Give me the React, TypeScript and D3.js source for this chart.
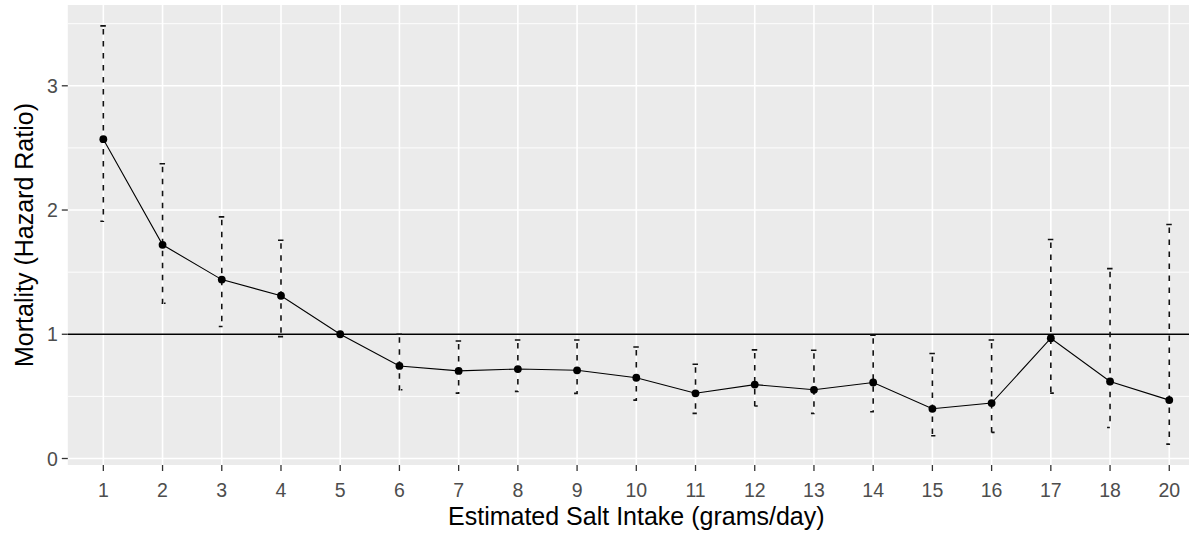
import React from "react";
import * as d3 from "d3";

// Salt intake categories (grams/day) and hazard ratios with 95% CI
const categories = ["1", "2", "3", "4", "5", "6", "7", "8", "9", "10", "11", "12", "13", "14", "15", "16", "17", "18", "20"];
const hazardRatio = [2.57, 1.72, 1.44, 1.31, 1.0, 0.745, 0.705, 0.72, 0.71, 0.65, 0.525, 0.595, 0.553, 0.612, 0.4, 0.446, 0.968, 0.62, 0.47];
const ciLower = [1.91, 1.25, 1.062, 0.981, 1.0, 0.553, 0.526, 0.54, 0.524, 0.47, 0.363, 0.422, 0.363, 0.376, 0.183, 0.21, 0.526, 0.25, 0.116];
const ciUpper = [3.482, 2.373, 1.945, 1.757, 1.0, 1.0, 0.946, 0.954, 0.954, 0.898, 0.759, 0.874, 0.871, 0.992, 0.845, 0.954, 1.763, 1.528, 1.884];
const yMajorTicks = [0, 1, 2, 3];
const yMinorTicks = [0.5, 1.5, 2.5, 3.5];
const referenceLine = 1;

const W = 1189;
const H = 537;
const panel = { left: 67.8, right: 1204.8, top: 5, bottom: 465 };
const FONT = "'Liberation Sans', Arial, sans-serif";

export default function App() {
  const x = d3
    .scalePoint<string>()
    .domain(categories)
    .range([panel.left, panel.right])
    .padding(0.6);

  const lo = d3.min(ciLower) as number;
  const hi = d3.max(ciUpper) as number;
  const pad = (hi - lo) * 0.05;
  const y = d3.scaleLinear().domain([lo - pad, hi + pad]).range([panel.bottom, panel.top]);

  const line = d3
    .line<number>()
    .x((_, i) => x(categories[i]) as number)
    .y((d) => y(d));

  const capHalf = 3;
  const errorPath = (i: number) => {
    const cx = x(categories[i]) as number;
    const yt = y(ciUpper[i]);
    const yb = y(ciLower[i]);
    return `M${cx - capHalf},${yt}H${cx + capHalf}H${cx}V${yb}H${cx - capHalf}H${cx + capHalf}`;
  };

  return (
    <svg
      width={W}
      height={H}
      style={{ position: "absolute", left: 0, top: 0, background: "#fff" }}
      fontFamily={FONT}
    >
      <defs>
        <clipPath id="panel-clip">
          <rect x={panel.left} y={panel.top} width={panel.right - panel.left} height={panel.bottom - panel.top} />
        </clipPath>
      </defs>
      <rect x={panel.left} y={panel.top} width={panel.right - panel.left} height={panel.bottom - panel.top} fill="#EBEBEB" />
      <g clipPath="url(#panel-clip)">
        {yMinorTicks.map((t) => (
          <line key={"mn" + t} x1={panel.left} x2={panel.right} y1={y(t)} y2={y(t)} stroke="#fff" strokeWidth={0.9} />
        ))}
        {yMajorTicks.map((t) => (
          <line key={"mj" + t} x1={panel.left} x2={panel.right} y1={y(t)} y2={y(t)} stroke="#fff" strokeWidth={1.6} />
        ))}
        {categories.map((c) => (
          <line key={"vx" + c} x1={x(c)} x2={x(c)} y1={panel.top} y2={panel.bottom} stroke="#fff" strokeWidth={1.6} />
        ))}
        <line
          x1={panel.left}
          x2={panel.right}
          y1={y(referenceLine)}
          y2={y(referenceLine)}
          stroke="#000"
          strokeWidth={1.4}
        />
        {categories.map((c, i) =>
          ciUpper[i] > ciLower[i] ? (
            <path
              key={"eb" + c}
              d={errorPath(i)}
              fill="none"
              stroke="#111"
              strokeWidth={1.6}
              strokeDasharray="5.5 6.5"
            />
          ) : null
        )}
        <path d={line(hazardRatio) as string} fill="none" stroke="#000" strokeWidth={1.1} />
        {hazardRatio.map((v, i) => (
          <circle key={"pt" + i} cx={x(categories[i])} cy={y(v)} r={3.9} fill="#000" />
        ))}
      </g>

      {/* y axis */}
      {yMajorTicks.map((t) => (
        <g key={"yt" + t}>
          <line x1={panel.left - 6} x2={panel.left} y1={y(t)} y2={y(t)} stroke="#333" strokeWidth={1.3} />
          <text x={panel.left - 10} y={y(t)} dy="0.36em" textAnchor="end" fontSize={19.5} fill="#4D4D4D">
            {t}
          </text>
        </g>
      ))}

      {/* x axis */}
      {categories.map((c) => (
        <g key={"xt" + c}>
          <line x1={x(c)} x2={x(c)} y1={panel.bottom} y2={panel.bottom + 6} stroke="#333" strokeWidth={1.3} />
          <text x={x(c)} y={497} textAnchor="middle" fontSize={19.5} fill="#4D4D4D">
            {c}
          </text>
        </g>
      ))}

      <text x={(panel.left + panel.right) / 2} y={525} textAnchor="middle" fontSize={25} fill="#000">
        Estimated Salt Intake (grams/day)
      </text>
      <text
        transform={`translate(33,${(panel.top + panel.bottom) / 2}) rotate(-90)`}
        textAnchor="middle"
        fontSize={25}
        fill="#000"
      >
        Mortality (Hazard Ratio)
      </text>
    </svg>
  );
}
